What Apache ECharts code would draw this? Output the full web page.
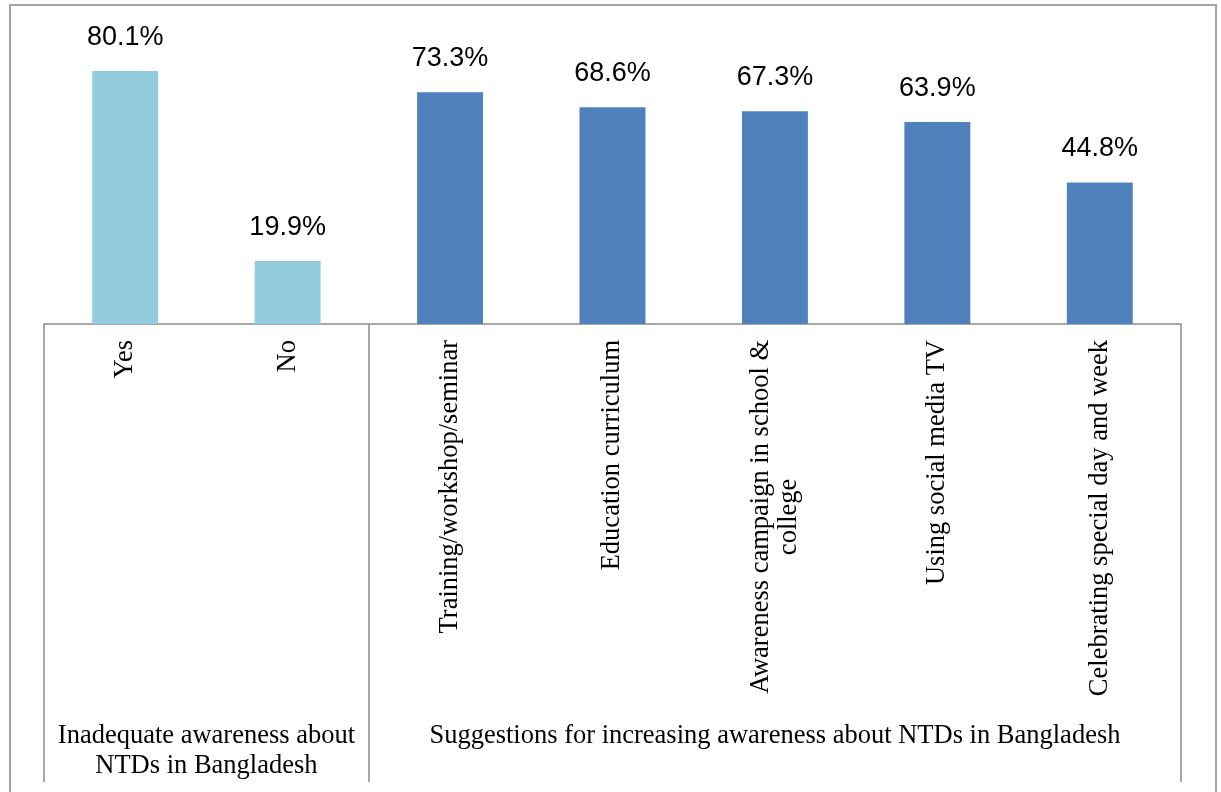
<!DOCTYPE html>
<html>
<head>
<meta charset="utf-8">
<script src="https://cdn.jsdelivr.net/npm/echarts@6/dist/echarts.min.js"></script>
<style>
  html, body { margin: 0; padding: 0; background: #fff; }
  #frame { position: absolute; left: 9px; top: 4px; width: 1208px; height: 820px; border: 2px solid #a3a3a3; box-sizing: border-box; }
  #chart { position: absolute; left: 0; top: 0; width: 1221px; height: 792px; }
</style>
</head>
<body>
<div id="frame"></div>
<div id="chart"></div>
<script>
// categories and values
const categories = [
  'Yes',
  'No',
  'Training/workshop/seminar',
  'Education curriculum',
  'Awareness campaign in school &\ncollege',
  'Using social media TV',
  'Celebrating special day and week'
];
const values = [80.1, 19.9, 73.3, 68.6, 67.3, 63.9, 44.8];

// two groups of categories
const groupNames = [
  'Inadequate awareness about\nNTDs in Bangladesh',
  'Suggestions for increasing awareness about NTDs in Bangladesh'
];
const groupSizes = [2, 5];
const groupColors = ['#93cddd', '#4f81bd'];

const serif = '"Liberation Serif", "Times New Roman", serif';
const sans = '"Liberation Sans", Arial, sans-serif';

// group boundaries and centers on a 0..7 value scale
const bounds = [0];
const centers = [];
const barColors = [];
groupSizes.forEach((n, g) => {
  const start = bounds[bounds.length - 1];
  bounds.push(start + n);
  centers.push(start + n / 2);
  for (let i = 0; i < n; i++) barColors.push(groupColors[g]);
});

const chart = echarts.init(document.getElementById('chart'));

const option = {
  animation: false,
  grid: { left: 44, right: 40, top: 8, bottom: 468 },
  xAxis: [
    {
      type: 'category',
      data: categories,
      axisLine: { show: false },
      axisTick: { show: false },
      axisLabel: {
        rotate: 90,
        interval: 0,
        margin: 16,
        color: '#000',
        fontFamily: serif,
        fontSize: 26.5,
        lineHeight: 28,
        formatter: (name) => name.split('\n').map(s => '{c|' + s + '}').join('\n'),
        rich: {
          c: { align: 'center', fontFamily: serif, fontSize: 26.5, lineHeight: 28, color: '#000' }
        }
      }
    },
    {
      type: 'value',
      position: 'bottom',
      min: 0,
      max: categories.length,
      splitLine: { show: false },
      axisLine: { show: true, lineStyle: { color: '#8a8a8a', width: 1.5 } },
      axisTick: {
        show: true,
        customValues: bounds,
        length: 458,
        lineStyle: { color: '#8a8a8a', width: 1.5 }
      },
      axisLabel: {
        customValues: centers,
        margin: 397,
        color: '#000',
        fontFamily: serif,
        fontSize: 26.5,
        lineHeight: 30,
        formatter: (v) => {
          const i = centers.findIndex(c => Math.abs(c - v) < 1e-6);
          return i >= 0 ? groupNames[i] : '';
        }
      }
    }
  ],
  yAxis: {
    type: 'value',
    min: 0,
    max: 100,
    show: false
  },
  series: [
    {
      type: 'bar',
      xAxisIndex: 0,
      barWidth: '40.6%',
      data: values.map((v, i) => ({ value: v, itemStyle: { color: barColors[i] } })),
      label: {
        show: true,
        position: 'top',
        distance: 20,
        color: '#000',
        fontFamily: sans,
        fontSize: 27,
        formatter: (p) => p.value.toFixed(1) + '%'
      }
    }
  ]
};

chart.setOption(option);
window.addEventListener('resize', () => chart.resize());
</script>
</body>
</html>
